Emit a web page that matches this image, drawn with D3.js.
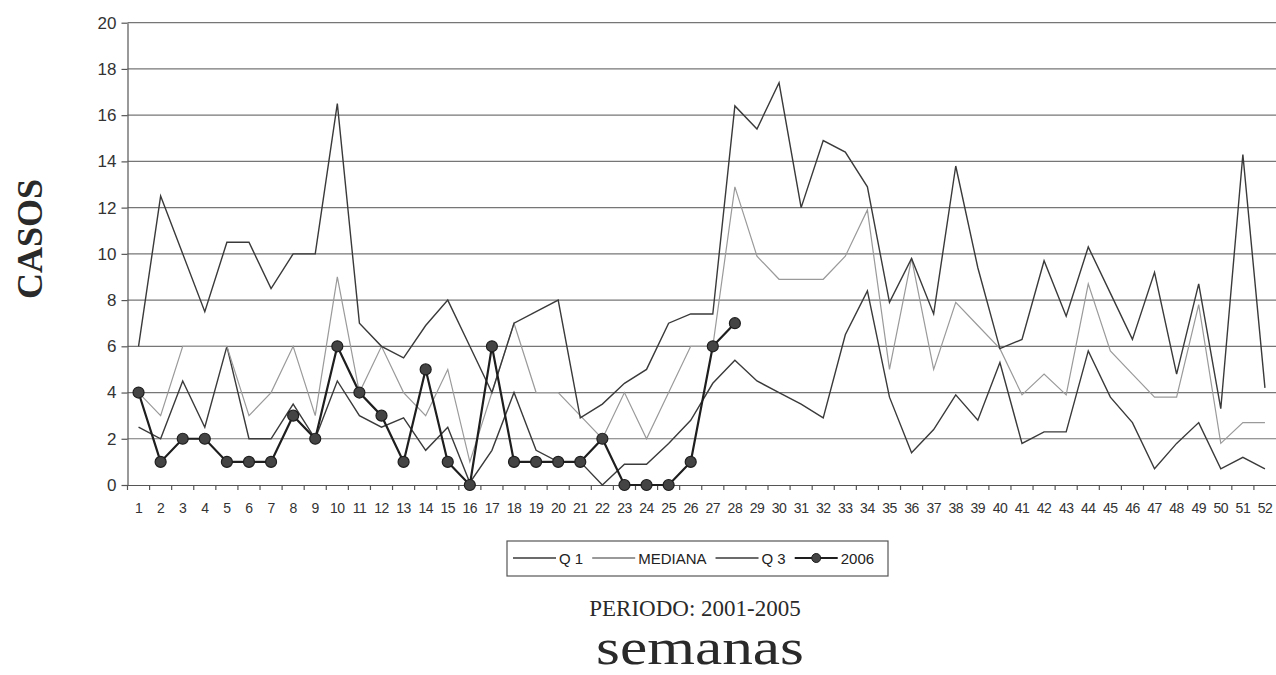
<!DOCTYPE html>
<html>
<head>
<meta charset="utf-8">
<script src="https://d3js.org/d3.v7.min.js"></script>
<style>
    body { margin: 0; background: #fff; }
    .grid-line { stroke: #767676; stroke-width: 1.2; }
    .axis path, .axis line { stroke: #555; stroke-width: 1.2; }
    .axis text { font-family: Arial, "Liberation Sans", sans-serif; fill: #333; }
    .serie { fill: none; stroke-linejoin: miter; }
    .legend-text { font-family: Arial, "Liberation Sans", sans-serif; font-size: 15px; fill: #222; }
    .serif-text { font-family: "Liberation Serif", "Times New Roman", serif; fill: #2a2a2a; }
</style>
</head>
<body>
<div id="chart"></div>
<script>
// semanas epidemiologicas
const weeks = d3.range(1, 53);
const yTicks = [0, 2, 4, 6, 8, 10, 12, 14, 16, 18, 20];

// valores (periodo 2001-2005)
const q1 = [2.5, 2, 4.5, 2.5, 6, 2, 2, 3.5, 2, 4.5, 3, 2.5, 2.9, 1.5, 2.5, 0.1, 1.5, 4, 1.5, 1,
    1, 0, 0.9, 0.9, 1.8, 2.8, 4.4, 5.4, 4.5, 4, 3.5, 2.9, 6.5, 8.4, 3.8, 1.4, 2.4, 3.9, 2.8, 5.3,
    1.8, 2.3, 2.3, 5.8, 3.8, 2.7, 0.7, 1.8, 2.7, 0.7, 1.2, 0.7];
const mediana = [4, 3, 6, 6, 6, 3, 4, 6, 3, 9, 4, 6, 4, 3, 5, 1, 4, 7, 4, 4,
    3, 2, 4, 2, 4, 6, 6, 12.9, 9.9, 8.9, 8.9, 8.9, 9.9, 11.9, 5, 9.8, 5, 7.9, 6.9, 5.9,
    3.9, 4.8, 3.9, 8.7, 5.8, 4.8, 3.8, 3.8, 7.8, 1.8, 2.7, 2.7];
const q3 = [6, 12.5, 10, 7.5, 10.5, 10.5, 8.5, 10, 10, 16.5, 7, 6, 5.5, 6.9, 8, 6, 4, 7, 7.5, 8,
    2.9, 3.5, 4.4, 5, 7, 7.4, 7.4, 16.4, 15.4, 17.4, 12, 14.9, 14.4, 12.9, 7.9, 9.8, 7.4, 13.8, 9.4, 5.9,
    6.3, 9.7, 7.3, 10.3, 8.3, 6.3, 9.2, 4.8, 8.7, 3.3, 14.3, 4.2];
// casos 2006 (hasta la semana 28)
const casos2006 = [4, 1, 2, 2, 1, 1, 1, 3, 2, 6, 4, 3, 1, 5, 1, 0, 6, 1, 1, 1, 1, 2, 0, 0, 0, 1, 6, 7];

const serieNames = ["Q 1", "MEDIANA", "Q 3", "2006"];

/**
 * Constructor for the chart
 */
function CasosChart(){
    let self = this;
    self.init();
};

/**
 * Creates svg, scales and axes
 */
CasosChart.prototype.init = function(){
    let self = this;
    self.margin = {top: 22.7, right: 0, bottom: 190, left: 127.5};
    self.width = 1276;
    self.height = 675;
    self.plotWidth = self.width - self.margin.left - self.margin.right;
    self.plotHeight = 485 - self.margin.top;

    self.svg = d3.select("#chart").append("svg")
        .attr("width", self.width)
        .attr("height", self.height);

    self.g = self.svg.append("g")
        .attr("transform", "translate(" + self.margin.left + "," + self.margin.top + ")");

    self.xScale = d3.scaleBand()
        .domain(weeks)
        .range([0, self.plotWidth]);

    self.yScale = d3.scaleLinear()
        .domain([0, 20])
        .range([self.plotHeight, 0]);

    //Horizontal grid lines
    self.g.selectAll(".grid-line")
        .data(yTicks.filter(d => d > 0))
        .enter().append("line")
        .attr("class", "grid-line")
        .attr("x1", 0)
        .attr("x2", self.plotWidth)
        .attr("y1", d => self.yScale(d))
        .attr("y2", d => self.yScale(d));

    //Y axis
    self.g.append("g")
        .attr("class", "axis")
        .call(d3.axisLeft(self.yScale).tickValues(yTicks).tickSize(6).tickPadding(5).tickSizeOuter(0))
        .selectAll("text")
        .style("font-size", "17px");

    //X axis: labels centered on weeks, ticks between weeks
    let xAxis = self.g.append("g")
        .attr("class", "axis")
        .attr("transform", "translate(0," + self.plotHeight + ")")
        .call(d3.axisBottom(self.xScale).tickSize(0).tickPadding(18).tickSizeOuter(0));
    xAxis.selectAll("text").style("font-size", "14px").style("letter-spacing", "-0.5px");

    xAxis.selectAll(".week-tick")
        .data(weeks)
        .enter().append("line")
        .attr("class", "week-tick")
        .attr("x1", d => self.xScale(d))
        .attr("x2", d => self.xScale(d))
        .attr("y1", 0)
        .attr("y2", 5)
        .style("stroke", "#555");

    //Axis titles
    self.svg.append("text")
        .attr("class", "serif-text")
        .attr("transform", "translate(29,239) rotate(-90)")
        .attr("text-anchor", "middle")
        .attr("dy", "0.35em")
        .style("font-size", "36px")
        .style("font-weight", "bold")
        .text("CASOS");

    self.svg.append("text")
        .attr("class", "serif-text")
        .attr("x", 695)
        .attr("y", 616)
        .attr("text-anchor", "middle")
        .style("font-size", "23px")
        .text("PERIODO: 2001-2005");

    self.svg.append("text")
        .attr("class", "serif-text")
        .attr("x", 700)
        .attr("y", 664)
        .attr("text-anchor", "middle")
        .attr("textLength", 208)
        .attr("lengthAdjust", "spacingAndGlyphs")
        .style("font-size", "50px")
        .text("semanas");
};

/**
 * Draws the lines and the legend
 */
CasosChart.prototype.update = function(){
    let self = this;

    const styles = [
        {color: "#3a3a3a", width: 1.4, marker: false},
        {color: "#9a9a9a", width: 1.2, marker: false},
        {color: "#3a3a3a", width: 1.4, marker: false},
        {color: "#1e1e1e", width: 2.2, marker: true}
    ];
    const series = [q1, mediana, q3, casos2006];

    const line = d3.line()
        .x((d, i) => self.xScale(weeks[i]) + self.xScale.bandwidth() / 2)
        .y(d => self.yScale(d));

    series.forEach(function(values, k) {
        self.g.append("path")
            .datum(values)
            .attr("class", "serie")
            .attr("d", line)
            .style("stroke", styles[k].color)
            .style("stroke-width", styles[k].width);

        if(styles[k].marker){
            self.g.selectAll(".dot")
                .data(values)
                .enter().append("circle")
                .attr("class", "dot")
                .attr("cx", (d, i) => self.xScale(weeks[i]) + self.xScale.bandwidth() / 2)
                .attr("cy", d => self.yScale(d))
                .attr("r", 5.5)
                .style("fill", "#444")
                .style("stroke", "#1e1e1e")
                .style("stroke-width", 1.2);
        }
    });

    //Legend
    let legend = self.svg.append("g");
    legend.append("rect")
        .attr("x", 507)
        .attr("y", 541)
        .attr("width", 381)
        .attr("height", 35)
        .style("fill", "#fff")
        .style("stroke", "#555")
        .style("stroke-width", 1.2);

    let x = 513;
    serieNames.forEach(function(name, k) {
        legend.append("line")
            .attr("x1", x)
            .attr("x2", x + 43)
            .attr("y1", 558)
            .attr("y2", 558)
            .style("stroke", k == 1 ? "#777" : styles[k].color)
            .style("stroke-width", styles[k].marker ? 2 : 1.3);
        if(styles[k].marker){
            legend.append("circle")
                .attr("cx", x + 21.5)
                .attr("cy", 558)
                .attr("r", 4.5)
                .style("fill", "#444")
                .style("stroke", "#1e1e1e");
        }
        let t = legend.append("text")
            .attr("class", "legend-text")
            .attr("x", x + 46)
            .attr("y", 563.5)
            .text(name);
        x = x + 46 + t.node().getComputedTextLength() + 9;
    });
};

let chart = new CasosChart();
chart.update();
</script>
</body>
</html>
